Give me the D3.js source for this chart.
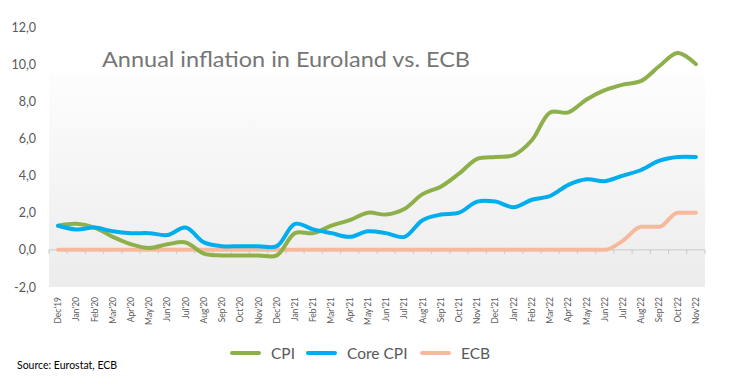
<!DOCTYPE html>
<html>
<head>
<meta charset="utf-8">
<script src="https://cdn.jsdelivr.net/npm/d3@7"></script>
<style>
  html, body { margin: 0; padding: 0; background: #ffffff; }
  svg { display: block; }
</style>
</head>
<body>
<svg id="chart" width="735" height="389"></svg>
<script>
const categories = ["Dec'19","Jan'20","Feb'20","Mar'20","Apr'20","May'20","Jun'20","Jul'20","Aug'20","Sep'20","Oct'20","Nov'20","Dec'20","Jan'21","Feb'21","Mar'21","Apr'21","May'21","Jun'21","Jul'21","Aug'21","Sep'21","Oct'21","Nov'21","Dec'21","Jan'22","Feb'22","Mar'22","Apr'22","May'22","Jun'22","Jul'22","Aug'22","Sep'22","Oct'22","Nov'22"];
const cpi = [1.3,1.4,1.2,0.7,0.3,0.1,0.3,0.4,-0.2,-0.3,-0.3,-0.3,-0.3,0.9,0.9,1.3,1.6,2.0,1.9,2.2,3.0,3.4,4.1,4.9,5.0,5.1,5.9,7.4,7.4,8.1,8.6,8.9,9.1,9.9,10.6,10.0];
const coreCpi = [1.3,1.1,1.2,1.0,0.9,0.9,0.8,1.2,0.4,0.2,0.2,0.2,0.2,1.4,1.1,0.9,0.7,1.0,0.9,0.7,1.6,1.9,2.0,2.6,2.6,2.3,2.7,2.9,3.5,3.8,3.7,4.0,4.3,4.8,5.0,5.0];
const ecb = [0,0,0,0,0,0,0,0,0,0,0,0,0,0,0,0,0,0,0,0,0,0,0,0,0,0,0,0,0,0,0,0.5,1.25,1.25,2.0,2.0];
const yTicks = [-2,0,2,4,6,8,10,12];
const seriesNames = ["CPI","Core CPI","ECB"];
const seriesColors = ["#8db04a","#00aeef","#f7b99c"];
const titleText = "Annual inflation in Euroland vs. ECB";
const sourceText = "Source: Eurostat, ECB";

const svg = d3.select("#chart");
const font = "Lato, 'Open Sans', sans-serif";
const plot = {left: 49, right: 705, top: 27, bottom: 287};

const x = d3.scaleBand().domain(categories).range([plot.left, plot.right]).padding(0);
const y = d3.scaleLinear().domain([-2, 12]).range([plot.bottom, plot.top]);

// background gradient of plot area
const defs = svg.append("defs");
const grad = defs.append("linearGradient").attr("id","bg").attr("x1",0).attr("y1",0).attr("x2",0).attr("y2",1);
grad.append("stop").attr("offset","0%").attr("stop-color","#fdfdfd");
grad.append("stop").attr("offset","100%").attr("stop-color","#ececec");
svg.append("rect").attr("x", plot.left).attr("y", 73)
  .attr("width", plot.right - plot.left).attr("height", plot.bottom - 73)
  .attr("fill","url(#bg)");

// title
svg.append("text").attr("x", 102).attr("y", 67)
  .attr("font-family", font).attr("font-size", 22).attr("fill", "#767676")
  .attr("textLength", 368).attr("lengthAdjust","spacingAndGlyphs")
  .text(titleText);

// y axis labels
const yAxis = d3.axisLeft(y).tickValues(yTicks).tickSize(0).tickPadding(0)
  .tickFormat(d => d3.format(".1f")(d).replace(".", ",").replace("−","-"));
const gy = svg.append("g").attr("transform", "translate(36,0)").call(yAxis);
gy.select(".domain").remove();
gy.selectAll("text").attr("font-family", font).attr("font-size", 12.5).attr("fill", "#595959");

// x axis line at zero with ticks
const gx = svg.append("g").attr("transform", `translate(0,${y(0)})`);
gx.append("line").attr("x1", plot.left).attr("x2", plot.right).attr("y1",0).attr("y2",0)
  .attr("stroke","#c8c8c8").attr("stroke-width",1);
const bounds = categories.map(c => x(c)).concat([plot.right]);
gx.selectAll("line.tick").data(bounds).enter().append("line").attr("class","tick")
  .attr("x1", d => d).attr("x2", d => d).attr("y1", 0).attr("y2", 4)
  .attr("stroke","#c8c8c8").attr("stroke-width",1);

// x labels
svg.append("g").selectAll("text").data(categories).enter().append("text")
  .attr("transform", d => `translate(${x(d) + x.bandwidth()/2},297) rotate(-90)`)
  .attr("text-anchor","end").attr("dy","0.35em")
  .attr("font-family", font).attr("font-size", 8.5).attr("fill", "#595959")
  .text(d => d);

// lines
const smooth = d3.line().x((d,i) => x(categories[i]) + x.bandwidth()/2).y(d => y(d)).curve(d3.curveCatmullRom.alpha(0.5));
const mono = d3.line().x((d,i) => x(categories[i]) + x.bandwidth()/2).y(d => y(d)).curve(d3.curveMonotoneX);

svg.append("path").datum(ecb).attr("d", mono).attr("fill","none")
  .attr("stroke", seriesColors[2]).attr("stroke-width", 4).attr("stroke-linejoin","round").attr("stroke-linecap","round");
svg.append("path").datum(cpi).attr("d", smooth).attr("fill","none")
  .attr("stroke", seriesColors[0]).attr("stroke-width", 4).attr("stroke-linejoin","round").attr("stroke-linecap","round");
svg.append("path").datum(coreCpi).attr("d", smooth).attr("fill","none")
  .attr("stroke", seriesColors[1]).attr("stroke-width", 4).attr("stroke-linejoin","round").attr("stroke-linecap","round");

// legend
const legendX = [232, 308, 422];
const lg = svg.append("g");
seriesNames.forEach((n, i) => {
  lg.append("line").attr("x1", legendX[i]).attr("x2", legendX[i] + 27).attr("y1", 353).attr("y2", 353)
    .attr("stroke", seriesColors[i]).attr("stroke-width", 4).attr("stroke-linecap","round");
  lg.append("text").attr("x", legendX[i] + 39).attr("y", 358.5)
    .attr("font-family", font).attr("font-size", 15.5).attr("fill", "#595959").text(n);
});

// source
svg.append("text").attr("x", 17).attr("y", 369)
  .attr("font-family", font).attr("font-size", 10.5).attr("fill", "#000000").text(sourceText);
</script>
</body>
</html>
